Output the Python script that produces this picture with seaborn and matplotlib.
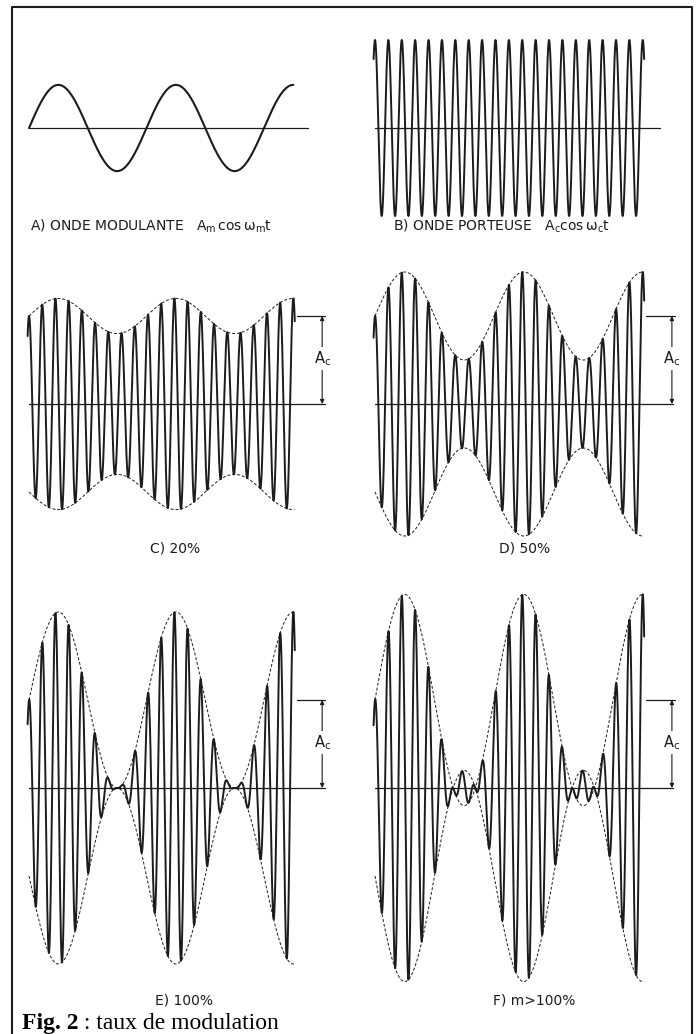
import numpy as np
import matplotlib
matplotlib.use("Agg")
import matplotlib.pyplot as plt
import seaborn as sns

sns.set_theme(style="white")
plt.rcParams['font.family'] = ['DejaVu Sans']
plt.rcParams['mathtext.fontset'] = 'dejavusans'

W, H = 699, 1034
INK = '#1c1c1c'

# values
mod_periods = 2.25          # modulating cycles shown in every panel
carrier_periods = 20        # carrier cycles over the same span
am_ratio = 0.49             # Am / Ac (panel A)
mod_index = [0.2, 0.5, 1.0, 1.2]
mod_labels = ['C) 20%', 'D) 50%', 'E) 100%', 'F) m>100%']
top_labels = [r'A) ONDE MODULANTE   $\mathregular{A_m\,cos\,\omega_m t}$',
              r'B) ONDE PORTEUSE   $\mathregular{A_c cos\,\omega_c t}$']
caption_bold = 'Fig. 2'
caption_rest = ' : taux de modulation'

# layout (pixels): column -> (x of t=0, px per modulating period, left, right)
cols = [(29, 117.5, 15, 345), (375, 119.0, 352, 690)]
# row -> (y of zero line, top, bottom)
rows = [(128, 12, 222), (404, 240, 560), (788, 565, 1005)]
PX_AC = 88.0
axis_end = [[2.375, 2.395], [2.52, 2.50], [2.52, 2.50]]

fig = plt.figure(figsize=(W / 100, H / 100), dpi=100)


def panel(ci, ri):
    x0, sx, left, right = cols[ci]
    y0, top, bottom = rows[ri]
    ax = fig.add_axes([left / W, 1 - bottom / H, (right - left) / W, (bottom - top) / H])
    ax.set_xlim((left - x0) / sx, (right - x0) / sx)
    ax.set_ylim(-(bottom - y0) / PX_AC, (y0 - top) / PX_AC)
    ax.axis('off')
    ax.plot([0, axis_end[ri][ci]], [0, 0], color=INK, lw=0.9)
    return ax


fc = carrier_periods / mod_periods
t = np.linspace(-0.012, mod_periods + 0.012, 6000)
t_env = np.linspace(0, mod_periods + 0.01, 600)
carrier = np.cos(2 * np.pi * fc * t)

# A) modulating wave
ax = panel(0, 0)
ta = np.linspace(0, mod_periods, 600)
sns.lineplot(x=ta, y=am_ratio * np.sin(2 * np.pi * ta), ax=ax, color=INK,
             lw=1.5, sort=False, estimator=None)

# B) carrier
ax = panel(1, 0)
sns.lineplot(x=t, y=carrier, ax=ax, color=INK, lw=1.4, sort=False, estimator=None)

for i, m in enumerate(mod_index):
    ci, ri = i % 2, 1 + i // 2
    ax = panel(ci, ri)
    sig = (1 + m * np.sin(2 * np.pi * t)) * carrier
    env = 1 + m * np.sin(2 * np.pi * t_env)
    sns.lineplot(x=t, y=sig, ax=ax, color=INK, lw=1.4, sort=False, estimator=None)
    for s in (1, -1):
        sns.lineplot(x=t_env, y=s * env, ax=ax, color=INK, lw=0.7,
                     linestyle=(0, (3, 2)), sort=False, estimator=None)
    # Ac bracket
    ax.plot([2.28, 2.52], [1, 1], color=INK, lw=0.9)
    ax.annotate('', xy=(2.495, 1), xytext=(2.495, 0),
                arrowprops=dict(arrowstyle='<|-|>', color=INK, lw=0.8,
                                mutation_scale=6, shrinkA=0, shrinkB=0))
    ax.text(2.495, 0.52, r'A$\mathregular{_c}$', ha='center', va='center',
            fontsize=10.5, color=INK,
            bbox=dict(facecolor='white', edgecolor='none', pad=1.5))

# panel captions
fig.text(30 / W, 1 - 226 / H, top_labels[0], fontsize=10, color=INK, va='center')
fig.text(393 / W, 1 - 226 / H, top_labels[1], fontsize=10, color=INK, va='center')
cap_pos = [(175, 548), (525, 548), (184, 1001), (534, 1001)]
for lab, (cx, cy) in zip(mod_labels, cap_pos):
    fig.text(cx / W, 1 - cy / H, lab, fontsize=10, color=INK, ha='center', va='center')

# frame + figure caption
frame = fig.add_axes([0, 0, 1, 1], facecolor='none')
frame.set_xlim(0, W)
frame.set_ylim(H, 0)
frame.axis('off')
frame.plot([12, 12, 692, 692], [H, 7, 7, H], color=INK, lw=1.5)
t1 = frame.text(22, 1029, caption_bold, fontsize=17, fontweight='bold',
                family='Liberation Serif', color='black', va='baseline')
frame.annotate(caption_rest, xy=(1, 0), xycoords=t1, va='bottom', fontsize=17,
               family='Liberation Serif', color='black')

fig.savefig('out.png', dpi=100)
